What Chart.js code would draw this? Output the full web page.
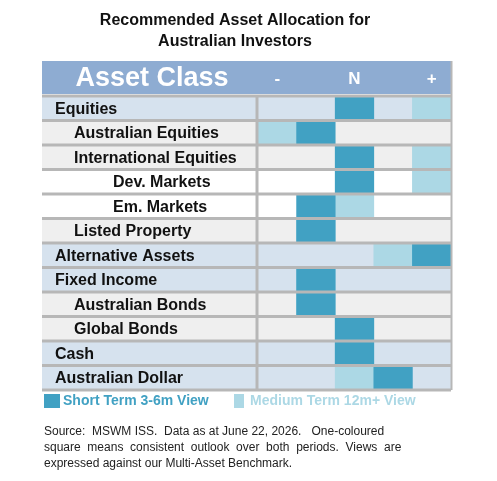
<!DOCTYPE html>
<html>
<head>
<meta charset="utf-8">
<script src="https://cdn.jsdelivr.net/npm/chart.js@4.4.1/dist/chart.umd.min.js"></script>
<style>
  html, body { margin: 0; padding: 0; background: #fff; }
  #wrap { width: 497px; height: 481px; position: relative; }
</style>
</head>
<body>
<div id="wrap"><canvas id="alloc"></canvas></div>
<script>
// asset classes, indent level and row style
const assetClasses = ['Equities', 'Australian Equities', 'International Equities', 'Dev. Markets', 'Em. Markets',
  'Listed Property', 'Alternative Assets', 'Fixed Income', 'Australian Bonds', 'Global Bonds', 'Cash', 'Australian Dollar'];
const indentLevels = [0, 1, 1, 2, 2, 1, 0, 0, 1, 1, 0, 0];
const rowKinds = ['main', 'sub', 'sub', 'plain', 'plain', 'sub', 'main', 'main', 'sub', 'sub', 'main', 'main'];
// view columns: 1 = most underweight ... 5 = most overweight
const viewTicks = ['-', '', 'N', '', '+'];
const shortTermView = [3, 2, 3, 3, 2, 2, 5, 2, 2, 3, 3, 4];
const mediumTermView = [5, 1, 5, 5, 3, 2, 4, 2, 2, 3, 3, 3];

const colors = {
  dark: '#41a1c3',
  light: '#acd8e5',
  main: '#d6e2ee',
  sub: '#efefef',
  plain: '#ffffff',
  header: '#8eacd2',
  line: '#b7b7b7'
};

const tableLeft = 42;

const tablePlugin = {
  id: 'tableDecor',
  beforeDatasetsDraw(chart) {
    const { ctx, chartArea, scales: { y } } = chart;
    const h = (chartArea.bottom - chartArea.top) / assetClasses.length;
    ctx.save();
    assetClasses.forEach((name, i) => {
      const cy = y.getPixelForValue(i);
      ctx.fillStyle = colors[rowKinds[i]];
      ctx.fillRect(tableLeft, cy - h / 2, chartArea.left - tableLeft, h);
    });
    ctx.restore();
  },
  afterDatasetsDraw(chart) {
    const { ctx, chartArea, scales: { x, y } } = chart;
    const h = (chartArea.bottom - chartArea.top) / assetClasses.length;
    ctx.save();
    // header
    ctx.fillStyle = colors.header;
    ctx.fillRect(tableLeft, 61, chartArea.right - tableLeft, 33);
    ctx.fillStyle = '#fff';
    ctx.textBaseline = 'middle';
    ctx.textAlign = 'center';
    ctx.font = 'bold 27px "Liberation Sans", Arial';
    ctx.fillText('Asset Class', 152, 79);
    ctx.font = 'bold 17px "Liberation Sans", Arial';
    viewTicks.forEach((t, i) => {
      if (t) ctx.fillText(t, x.getPixelForValue(i + 0.5), 79);
    });
    // row separators
    ctx.strokeStyle = colors.line;
    ctx.lineWidth = 3;
    for (let i = 0; i <= assetClasses.length; i++) {
      const yy = chartArea.top + i * h;
      ctx.beginPath();
      ctx.moveTo(tableLeft, yy);
      ctx.lineTo(chartArea.right, yy);
      ctx.stroke();
    }
    ctx.beginPath();
    ctx.moveTo(chartArea.left - 1, chartArea.top);
    ctx.lineTo(chartArea.left - 1, chartArea.bottom);
    ctx.stroke();
    ctx.lineWidth = 2;
    ctx.beginPath();
    ctx.moveTo(chartArea.right + 0.5, 61);
    ctx.lineTo(chartArea.right + 0.5, chartArea.bottom);
    ctx.stroke();
    // labels
    ctx.fillStyle = '#111';
    ctx.textAlign = 'left';
    ctx.font = 'bold 16px "Liberation Sans", Arial';
    const indentX = [55, 74, 113];
    assetClasses.forEach((name, i) => {
      ctx.fillText(name, indentX[indentLevels[i]], y.getPixelForValue(i) + 1);
    });
    // title
    ctx.textAlign = 'center';
    ctx.font = 'bold 16px "Liberation Sans", Arial';
    ctx.fillText('Recommended Asset Allocation for', 235, 21);
    ctx.fillText('Australian Investors', 235, 42);
    // legend
    const ly = chartArea.bottom + 10;
    ctx.textAlign = 'left';
    ctx.font = 'bold 14px "Liberation Sans", Arial';
    ctx.fillStyle = colors.dark;
    ctx.fillRect(44, ly - 6, 16, 14);
    ctx.fillText('Short Term 3-6m View', 63, ly + 1);
    ctx.fillStyle = colors.light;
    ctx.fillRect(234, ly - 6, 10, 14);
    ctx.fillText('Medium Term 12m+ View', 250, ly + 1);
    // footnote
    ctx.fillStyle = '#222';
    ctx.font = '12px "Liberation Sans", Arial';
    ctx.fillText('Source:  MSWM ISS.  Data as at June 22, 2026.   One-coloured', 44, 432);
    ctx.fillText('square  means  consistent  outlook  over  both  periods.  Views  are', 44, 448);
    ctx.fillText('expressed against our Multi-Asset Benchmark.', 44, 464);
    ctx.restore();
  }
};

const toRange = v => [v - 1, v];

new Chart(document.getElementById('alloc'), {
  type: 'bar',
  data: {
    labels: assetClasses,
    datasets: [
      {
        label: 'Row',
        data: assetClasses.map(() => [0, 5]),
        backgroundColor: rowKinds.map(k => colors[k]),
        grouped: false,
        order: 3
      },
      {
        label: 'Medium Term 12m+ View',
        data: mediumTermView.map(toRange),
        backgroundColor: colors.light,
        grouped: false,
        order: 2
      },
      {
        label: 'Short Term 3-6m View',
        data: shortTermView.map(toRange),
        backgroundColor: colors.dark,
        grouped: false,
        order: 1
      }
    ]
  },
  options: {
    indexAxis: 'y',
    responsive: true,
    maintainAspectRatio: false,
    animation: false,
    layout: { padding: { left: 258, right: 46, top: 96, bottom: 91 } },
    datasets: { bar: { barPercentage: 1, categoryPercentage: 1, borderWidth: 0 } },
    scales: {
      x: { min: 0, max: 5, display: false },
      y: { display: false }
    },
    plugins: { legend: { display: false }, tooltip: { enabled: false } }
  },
  plugins: [tablePlugin]
});
</script>
</body>
</html>
